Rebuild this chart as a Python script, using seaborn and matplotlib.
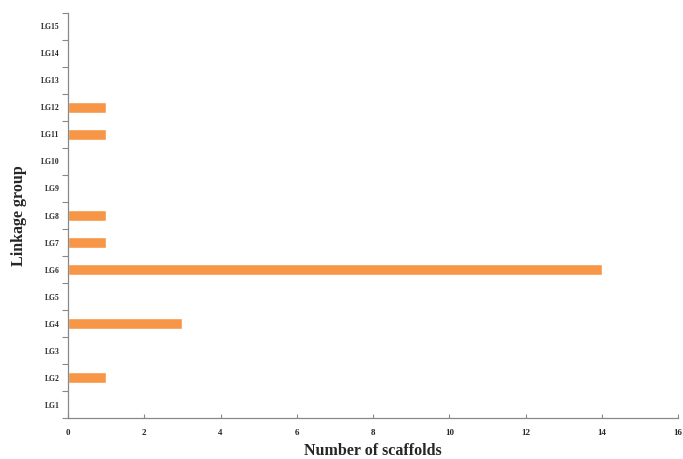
import numpy as np
import pandas as pd
import matplotlib
matplotlib.use("Agg")
import matplotlib.pyplot as plt
import seaborn as sns

groups = ["LG1", "LG2", "LG3", "LG4", "LG5", "LG6", "LG7", "LG8",
          "LG9", "LG10", "LG11", "LG12", "LG13", "LG14", "LG15"]
scaffolds = [0, 1, 0, 3, 0, 14, 1, 1, 0, 0, 1, 1, 0, 0, 0]
x_ticks = [0, 2, 4, 6, 8, 10, 12, 14, 16]

df = pd.DataFrame({"group": groups, "count": scaffolds})
order = groups[::-1]

sns.set_style("white")
plt.rcParams["font.family"] = ["Liberation Serif", "DejaVu Serif"]
plt.rcParams["font.weight"] = "bold"

fig = plt.figure(figsize=(6.83, 4.59), dpi=100)
ax = fig.add_axes([0.0996, 0.0893, 0.8931, 0.8824])

sns.barplot(data=df, y="group", x="count", order=order, orient="h",
            color="#F79646", saturation=1, width=0.4, ax=ax)

ax.set_xlim(0, 16)
ax.set_ylim(len(groups) - 0.5, -0.5)
ax.set_xticks(x_ticks)
ax.set_xticklabels([str(t) for t in x_ticks], fontsize=6.5, fontweight="bold")
ax.tick_params(axis="x", bottom=True, direction="in", length=3, width=0.8,
               color="#888888", pad=8)

ax.set_yticks(range(len(order)))
ax.set_yticklabels(order, fontsize=5.5, fontweight="bold")
ax.tick_params(axis="y", which="major", left=True, length=0, pad=6)
ax.set_yticks(np.arange(-0.5, len(order)), minor=True)
ax.tick_params(axis="y", which="minor", left=True, direction="out", length=4,
               width=0.8, color="#888888")

for s in ["top", "right"]:
    ax.spines[s].set_visible(False)
for s in ["left", "bottom"]:
    ax.spines[s].set_color("#888888")
    ax.spines[s].set_linewidth(0.9)

ax.set_xlabel("Number of scaffolds", fontsize=11.5, fontweight="bold", labelpad=4)
ax.set_ylabel("Linkage group", fontsize=11.5, fontweight="bold", labelpad=10)

fig.savefig("out.png", dpi=100)
